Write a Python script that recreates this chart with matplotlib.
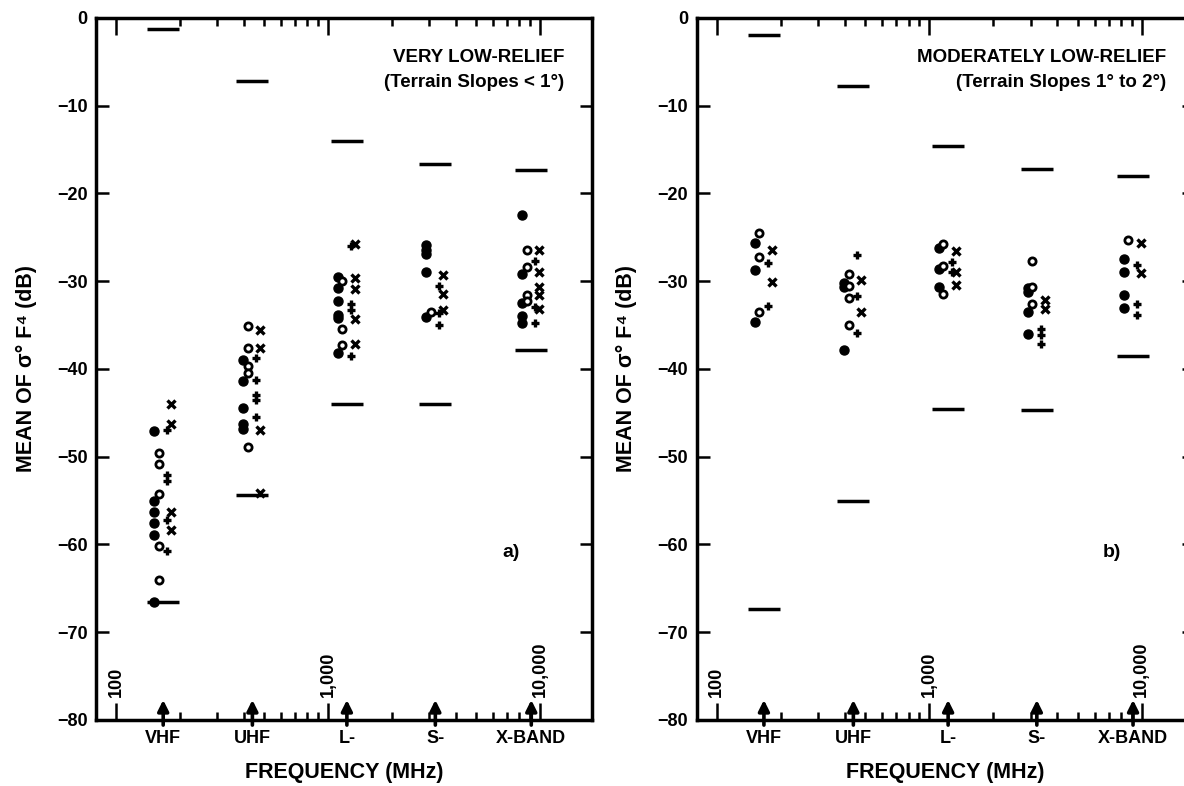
import matplotlib
matplotlib.use('Agg')
import matplotlib.pyplot as plt
from matplotlib.ticker import FixedLocator, NullFormatter

plt.rcParams['font.family'] = ['Liberation Sans', 'DejaVu Sans']
plt.rcParams['font.weight'] = 'bold'
plt.rcParams['axes.unicode_minus'] = True

# radar bands and their frequency (MHz)
bands = ['VHF', 'UHF', 'L-', 'S-', 'X-BAND']
band_freq = [167, 440, 1228, 3210, 9100]

# panel a) very low-relief: upper / lower bound bars per band
a_upper = [-1.3, -7.2, -14.0, -16.6, -17.3]
a_lower = [-66.6, -54.4, -44.0, -44.0, -37.8]
# points per band (VHF, UHF, L, S, X)
a_filled = [[-47.1, -55.1, -56.3, -57.5, -58.9, -66.6],
            [-39.0, -41.4, -44.4, -46.3, -46.8],
            [-29.5, -30.8, -32.2, -33.8, -34.2, -38.2],
            [-25.9, -26.4, -26.9, -29.0, -34.1],
            [-22.5, -29.2, -32.5, -34.0, -34.8]]
a_open = [[-49.6, -50.8, -54.2, -60.2, -64.0],
          [-35.1, -37.6, -39.7, -40.5, -48.9],
          [-30.0, -35.4, -37.3],
          [-33.5],
          [-26.4, -28.4, -31.6, -32.2]]
a_plus = [[-47.0, -52.1, -52.8, -57.2, -60.7],
          [-38.8, -41.2, -43.0, -43.5, -45.5],
          [-26.0, -32.6, -33.3, -38.5],
          [-30.5, -33.6, -35.0],
          [-27.7, -32.9, -34.8]]
a_cross = [[-44.0, -46.3, -56.3, -58.3],
           [-35.6, -37.6, -47.0, -54.1],
           [-25.7, -29.6, -30.9, -34.3, -37.1],
           [-29.3, -31.4, -33.3],
           [-26.4, -28.9, -30.6, -31.6, -33.2]]

# panel b) moderately low-relief
b_upper = [-1.9, -7.7, -14.6, -17.2, -18.0]
b_lower = [-67.3, -55.0, -44.6, -44.7, -38.5]
b_filled = [[-25.6, -28.7, -34.7],
            [-30.2, -30.7, -37.8],
            [-26.2, -28.6, -30.6],
            [-30.8, -31.2, -33.5, -36.0],
            [-27.5, -28.9, -31.6, -33.1]]
b_open = [[-24.5, -27.2, -33.5],
          [-29.2, -30.5, -31.9, -35.0],
          [-25.8, -28.3, -31.4],
          [-27.7, -30.6, -32.6],
          [-25.3]]
b_plus = [[-27.9, -32.8],
          [-27.0, -31.7, -35.9],
          [-27.8, -29.0],
          [-35.4, -36.1, -37.1],
          [-28.1, -32.6, -33.8]]
b_cross = [[-26.4, -30.1],
           [-29.9, -33.5],
           [-26.5, -28.9, -30.4],
           [-32.1, -33.2],
           [-25.6, -29.1]]

freq_ticks = [100, 1000, 10000]
freq_labels = ['100', '1,000', '10,000']
y_ticks = [0, -10, -20, -30, -40, -50, -60, -70, -80]


def draw_panel(ax, upper, lower, filled, opened, plus, cross, line1, line2, tag):
    ax.set_xscale('log')
    ax.set_xlim(80.5, 17600)
    ax.set_ylim(-80, 0)

    for i, f in enumerate(band_freq):
        ax.hlines([upper[i], lower[i]], f * 10 ** -0.075, f * 10 ** 0.075,
                  color='k', lw=2.5)
        ax.plot([f * 10 ** -0.043] * len(filled[i]), filled[i], 'o', color='k',
                ms=6.5, mec='k')
        ax.plot([f * 10 ** -0.022] * len(opened[i]), opened[i], 'o', mfc='white',
                mec='k', mew=2.0, ms=5.2)
        ax.plot([f * 10 ** 0.019] * len(plus[i]), plus[i], '+', color='k',
                ms=5.5, mew=2.4)
        ax.plot([f * 10 ** 0.038] * len(cross[i]), cross[i], 'x', color='k',
                ms=5.2, mew=2.4)
        # band arrow
        ax.annotate('', xy=(f, -77.4), xytext=(f, -80.9),
                    arrowprops=dict(arrowstyle='-|>', lw=2.6, color='k',
                                    mutation_scale=16),
                    annotation_clip=False)
        ax.text(f, -0.027, bands[i], transform=ax.get_xaxis_transform(),
                ha='center', va='center', fontsize=13, weight='bold')

    for f, lab in zip(freq_ticks, freq_labels):
        ax.text(f, -77.4, lab, rotation=90, ha='center', va='bottom',
                fontsize=13, weight='bold')

    ax.xaxis.set_major_locator(FixedLocator(freq_ticks))
    ax.xaxis.set_minor_locator(FixedLocator(
        [m * d for d in (100, 1000) for m in range(2, 10)]))
    ax.xaxis.set_major_formatter(NullFormatter())
    ax.xaxis.set_minor_formatter(NullFormatter())
    ax.set_yticks(y_ticks)
    ax.set_yticklabels(['0'] + ['\u2212%d' % -v for v in y_ticks[1:]])

    ax.tick_params(axis='x', which='both', direction='in', top=True, bottom=True)
    ax.tick_params(axis='x', which='major', length=12, width=1.8)
    ax.tick_params(axis='x', which='minor', length=6, width=1.8)
    ax.tick_params(axis='y', direction='in', left=True, right=True, length=9,
                   width=1.8, pad=6, labelsize=13)
    for s in ax.spines.values():
        s.set_linewidth(2.5)

    ax.text(0.944, 0.944, line1, transform=ax.transAxes, ha='right', va='center',
            fontsize=13.5, weight='bold')
    ax.text(0.944, 0.908, line2, transform=ax.transAxes, ha='right', va='center',
            fontsize=13.5, weight='bold')
    ax.text(0.836, 0.239, tag, transform=ax.transAxes, ha='center', va='center',
            fontsize=14, weight='bold')
    ax.text(0.5, -0.0755, 'FREQUENCY (MHz)', transform=ax.transAxes,
            ha='center', va='center', fontsize=15.5, weight='bold')
    ax.text(-0.14, 0.5, 'MEAN OF \u03c3\u00b0 F\u2074 (dB)', transform=ax.transAxes,
            rotation=90, ha='center', va='center', fontsize=15.5, weight='bold')


fig = plt.figure(figsize=(11.84, 7.86), dpi=100)
ax1 = fig.add_axes([0.0811, 0.0840, 0.4189, 0.8931])
ax2 = fig.add_axes([0.5883, 0.0840, 0.4201, 0.8931])

draw_panel(ax1, a_upper, a_lower, a_filled, a_open, a_plus, a_cross,
           'VERY LOW-RELIEF', '(Terrain Slopes < 1\u00b0)', 'a)')
draw_panel(ax2, b_upper, b_lower, b_filled, b_open, b_plus, b_cross,
           'MODERATELY LOW-RELIEF', '(Terrain Slopes 1\u00b0 to 2\u00b0)', 'b)')

fig.savefig('out.png', dpi=100)
